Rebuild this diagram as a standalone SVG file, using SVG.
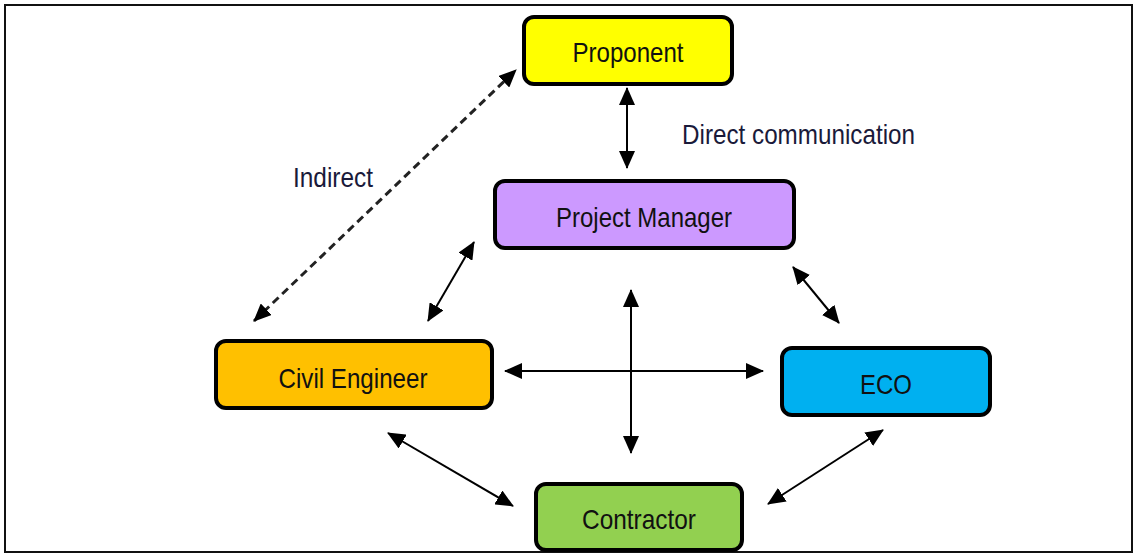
<svg xmlns="http://www.w3.org/2000/svg" width="1136" height="554" viewBox="0 0 1136 554">
  <style>
    .box { stroke: #000; stroke-width: 4; }
    .label { font-family: "Liberation Sans", Arial, sans-serif; font-size: 28px; fill: #111; text-anchor: middle; }
    .note { font-family: "Liberation Sans", Arial, sans-serif; font-size: 28px; fill: #1a1a3a; }
    .link { stroke: #000; stroke-width: 2; fill: none; marker-start: url(#head); marker-end: url(#head); }
    .dashed { stroke: #222; stroke-width: 3; stroke-dasharray: 8 5; fill: none; marker-start: url(#head); marker-end: url(#head); }
  </style>
  <defs>
    <marker id="head" markerUnits="userSpaceOnUse" markerWidth="18" markerHeight="16" refX="17" refY="8" orient="auto-start-reverse">
      <path d="M0,0 L18,8 L0,16 Z" fill="#000"/>
    </marker>
  </defs>

  <rect x="0" y="0" width="1136" height="554" fill="#fff"/>
  <rect x="5" y="5" width="1127" height="547" fill="none" stroke="#111" stroke-width="2"/>

  <g id="connectors">
    <line class="link" x1="627" y1="88" x2="627" y2="168"/>
    <line class="dashed" x1="254" y1="321" x2="516" y2="70"/>
    <line class="link" x1="474" y1="242" x2="428" y2="321"/>
    <line class="link" x1="793" y1="267" x2="839" y2="323"/>
    <line class="link" x1="505" y1="371" x2="763" y2="371"/>
    <line class="link" x1="631" y1="290" x2="631" y2="453"/>
    <line class="link" x1="388" y1="433" x2="513" y2="506"/>
    <line class="link" x1="883" y1="430" x2="768" y2="504"/>
  </g>

  <g id="label-indirect">
    <text class="note" x="293" y="187" textLength="80" lengthAdjust="spacingAndGlyphs">Indirect</text>
  </g>
  <g id="label-direct">
    <text class="note" x="682" y="144" textLength="233" lengthAdjust="spacingAndGlyphs">Direct communication</text>
  </g>

  <g id="proponent">
    <rect class="box" x="524" y="17" width="208" height="67" rx="10" fill="#ffff00"/>
    <text class="label" x="628" y="62" textLength="111" lengthAdjust="spacingAndGlyphs">Proponent</text>
  </g>

  <g id="project-manager">
    <rect class="box" x="495" y="181" width="299" height="67" rx="10" fill="#cc99ff"/>
    <text class="label" x="644" y="227" textLength="176" lengthAdjust="spacingAndGlyphs">Project Manager</text>
  </g>

  <g id="civil-engineer">
    <rect class="box" x="216" y="341" width="276" height="67" rx="10" fill="#ffc000"/>
    <text class="label" x="353" y="388" textLength="149" lengthAdjust="spacingAndGlyphs">Civil Engineer</text>
  </g>

  <g id="eco">
    <rect class="box" x="782" y="348" width="208" height="67" rx="10" fill="#00b0f0"/>
    <text class="label" x="886" y="394" textLength="52" lengthAdjust="spacingAndGlyphs">ECO</text>
  </g>

  <g id="contractor">
    <rect class="box" x="536" y="484" width="206" height="66" rx="10" fill="#92d050"/>
    <text class="label" x="639" y="529" textLength="114" lengthAdjust="spacingAndGlyphs">Contractor</text>
  </g>
</svg>
